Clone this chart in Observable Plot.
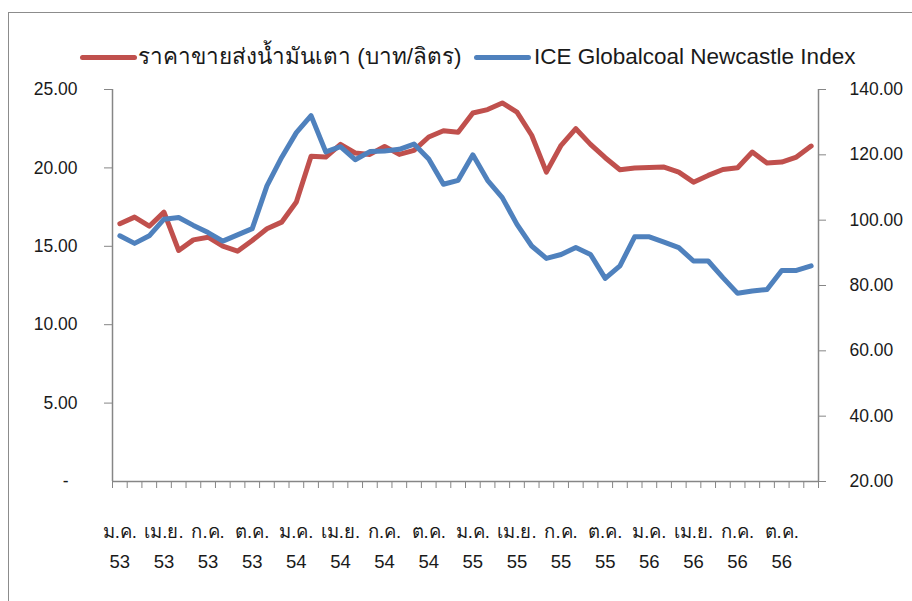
<!DOCTYPE html>
<html>
<head>
<meta charset="utf-8">
<script src="https://cdn.jsdelivr.net/npm/d3@7"></script>
<script src="https://cdn.jsdelivr.net/npm/@observablehq/plot@0.6"></script>
<style>
  html, body { margin: 0; padding: 0; background: #fff; overflow: hidden; }
  #wrap { position: relative; width: 912px; height: 601px; overflow: hidden; font-family: "Liberation Sans", Arial, sans-serif; color: #1a1a1a; }
  #frame { position: absolute; left: 8px; top: 12px; width: 1200px; height: 1200px; border: 1.5px solid #8c8c8c; box-sizing: border-box; pointer-events: none; }
  #legend { position: relative; height: 75px; }
  .sw { position: absolute; top: 55px; height: 5px; border-radius: 3px; }
  .lt { position: absolute; top: 44px; font-size: 22.5px; line-height: 26px; white-space: nowrap; }
  #chart { position: relative; }
</style>
</head>
<body>
<div id="wrap">
  <div id="frame"></div>
  <div id="legend"></div>
  <div id="chart"></div>
</div>
<script>
// Series names
const seriesNames = ["ราคาขายส่งน้ำมันเตา (บาท/ลิตร)", "ICE Globalcoal Newcastle Index"];
const seriesColors = ["#C0504D", "#4F81BD"];

// Monthly values Jan 2553 (2010) .. Dec 2556 (2013)
const fuelOilPrice = [
  16.44, 16.86, 16.28, 17.18, 14.73, 15.41, 15.58, 15.01, 14.69, 15.37, 16.12, 16.54,
  17.82, 20.75, 20.69, 21.50, 20.95, 20.86, 21.37, 20.86, 21.12, 21.97, 22.37, 22.27,
  23.50, 23.72, 24.14, 23.56, 22.08, 19.73, 21.44, 22.50, 21.50, 20.65, 19.88, 19.99,
  20.03, 20.05, 19.73, 19.09, 19.52, 19.90, 20.01, 21.01, 20.31, 20.37, 20.69, 21.39
];
const coalIndex = [
  95.2, 92.9, 95.2, 100.3, 100.8, 98.4, 96.2, 93.6, 95.5, 97.4, 110.5, 119.2,
  126.8, 132.0, 120.9, 122.5, 118.5, 121.0, 121.2, 121.7, 123.3, 118.7, 111.0, 112.2,
  120.0, 112.2, 106.9, 98.7, 92.1, 88.3, 89.5, 91.6, 89.5, 82.2, 86.0, 94.9,
  94.9, 93.3, 91.6, 87.5, 87.5, 82.4, 77.6, 78.3, 78.8, 84.6, 84.6, 86.0
];

// Tick labels (one every 3 months)
const monthLabels = ["ม.ค.", "เม.ย.", "ก.ค.", "ต.ค.", "ม.ค.", "เม.ย.", "ก.ค.", "ต.ค.",
                     "ม.ค.", "เม.ย.", "ก.ค.", "ต.ค.", "ม.ค.", "เม.ย.", "ก.ค.", "ต.ค."];
const yearLabels = ["53", "53", "53", "53", "54", "54", "54", "54",
                    "55", "55", "55", "55", "56", "56", "56", "56"];

const leftTicks = [5, 10, 15, 20, 25];
const rightTicks = [20, 40, 60, 80, 100, 120, 140];
const leftDomain = [0, 25];
const rightDomain = [20, 140];

// map right-axis value onto left scale
const toLeft = v => (v - rightDomain[0]) / (rightDomain[1] - rightDomain[0]) * (leftDomain[1] - leftDomain[0]) + leftDomain[0];
const fromLeft = y => (y - leftDomain[0]) / (leftDomain[1] - leftDomain[0]) * (rightDomain[1] - rightDomain[0]) + rightDomain[0];

const n = fuelOilPrice.length;
const red = fuelOilPrice.map((v, i) => ({i, v}));
const blue = coalIndex.map((v, i) => ({i, v: toLeft(v)}));

// Legend
const legend = document.getElementById("legend");
const legendPos = [[80, 138], [474, 534]];
seriesNames.forEach((name, k) => {
  const sw = document.createElement("div");
  sw.className = "sw";
  sw.style.left = legendPos[k][0] + "px";
  sw.style.width = "57px";
  sw.style.background = seriesColors[k];
  legend.appendChild(sw);
  const t = document.createElement("div");
  t.className = "lt";
  t.style.left = legendPos[k][1] + "px";
  t.textContent = name;
  legend.appendChild(t);
});

const axisGray = "#868686";
const textCol = "#1a1a1a";

const plot = Plot.plot({
  width: 912,
  height: 526,
  marginTop: 14,
  marginBottom: 120,
  marginLeft: 112,
  marginRight: 94,
  style: {fontFamily: "'Liberation Sans', Arial, sans-serif", fontSize: "17.5px", color: textCol, background: "transparent"},
  x: {type: "linear", domain: [-0.5, n - 0.5], axis: null},
  y: {domain: leftDomain, axis: null},
  marks: [
    // left axis
    Plot.axisY(leftTicks, {anchor: "left", label: null, tickSize: 8, tickPadding: 27, stroke: axisGray, fill: textCol,
      tickFormat: d => d.toFixed(2), fontSize: 17.5}),
    Plot.axisY([0], {anchor: "left", label: null, tickSize: 0, tickPadding: 44, fill: textCol, tickFormat: () => "-", fontSize: 17.5}),
    // right axis
    Plot.axisY(rightTicks.map(toLeft), {anchor: "right", label: null, tickSize: 7, tickPadding: 24, stroke: axisGray, fill: textCol,
      tickFormat: d => fromLeft(d).toFixed(2), fontSize: 17.5}),
    // bottom category boundary ticks
    Plot.axisX(d3.range(n + 1).map(i => i - 0.5), {anchor: "bottom", label: null, tickSize: 7, stroke: axisGray, tickFormat: () => ""}),
    // month labels
    Plot.axisX(d3.range(0, n, 3), {anchor: "bottom", label: null, tickSize: 0, tickPadding: 43, fill: textCol, fontSize: 18.5,
      tickFormat: i => monthLabels[i / 3]}),
    // year labels
    Plot.axisX(d3.range(0, n, 3), {anchor: "bottom", label: null, tickSize: 0, tickPadding: 73, fill: textCol, fontSize: 18.5,
      tickFormat: i => yearLabels[i / 3]}),
    // axis lines
    Plot.ruleX([-0.5, n - 0.5], {stroke: axisGray, strokeWidth: 1.5}),
    Plot.ruleY([0], {stroke: axisGray, strokeWidth: 1.5}),
    // series
    Plot.line(red, {x: "i", y: "v", stroke: seriesColors[0], strokeWidth: 5, strokeLinejoin: "round", strokeLinecap: "round"}),
    Plot.line(blue, {x: "i", y: "v", stroke: seriesColors[1], strokeWidth: 5, strokeLinejoin: "round", strokeLinecap: "round"})
  ]
});
document.getElementById("chart").appendChild(plot);
</script>
</body>
</html>
